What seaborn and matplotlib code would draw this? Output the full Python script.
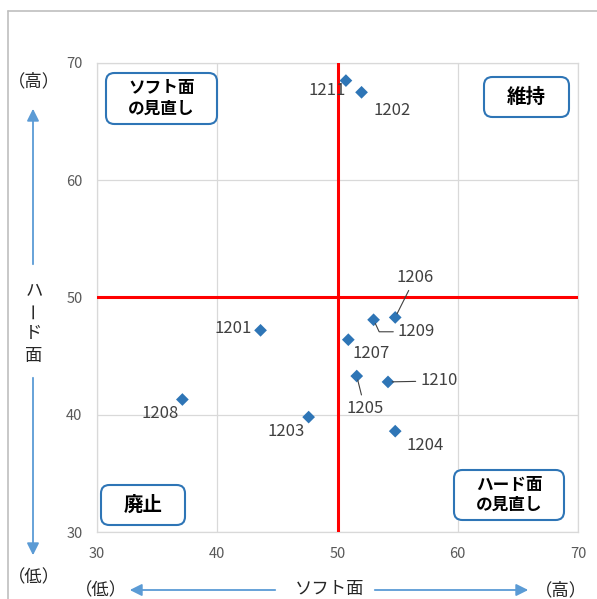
import matplotlib
matplotlib.use('Agg')
import matplotlib.pyplot as plt
import seaborn as sns
import pandas as pd
from matplotlib.patches import FancyBboxPatch
from matplotlib.lines import Line2D

# data
ids = ['1201', '1202', '1203', '1204', '1205', '1206', '1207', '1208', '1209', '1210', '1211']
soft = [43.6, 52.0, 47.6, 54.8, 51.6, 54.8, 50.9, 37.1, 53.0, 54.2, 50.7]
hard = [47.2, 67.5, 39.8, 38.6, 43.3, 48.3, 46.4, 41.3, 48.1, 42.8, 68.5]
ticks = [30, 40, 50, 60, 70]
quadrants = ['ソフト面\nの見直し', '維持', '廃止', 'ハード面\nの見直し']

sns.set_theme(style='white')
plt.rcParams['font.family'] = ['Noto Sans CJK JP', 'DejaVu Sans']

W, H = 597, 599
fig = plt.figure(figsize=(W / 100, H / 100), dpi=100)
ax = fig.add_axes([97 / W, 1 - 532 / H, (578 - 97) / W, (532 - 63) / H])

def fx(px):
    return px / W

def fy(py):
    return 1 - py / H

df = pd.DataFrame({'id': ids, 'soft': soft, 'hard': hard})
sns.scatterplot(data=df, x='soft', y='hard', marker='D', s=42, color='#2E75B6',
                edgecolor='none', ax=ax, zorder=5)

ax.set_xlim(30, 70)
ax.set_ylim(30, 70)
ax.set_xticks(ticks)
ax.set_yticks(ticks)
ax.grid(True, color='#D9D9D9', lw=0.9)
for s in ax.spines.values():
    s.set_color('#D9D9D9')
    s.set_linewidth(0.9)
ax.tick_params(length=0, labelsize=10.5, labelcolor='#595959', pad=10.5)
ax.set_xlabel('')
ax.set_ylabel('')

ax.axvline(50, color='#FF0000', lw=2.2, zorder=3)
ax.axhline(50, color='#FF0000', lw=2.2, zorder=3)

# label offsets in pixels (dx, dy), plus leader line style
offsets = {
    '1201': (-27, 2, None), '1202': (31, -18, None), '1203': (-23, -14, None),
    '1204': (30, -14, None), '1205': (8, -32, 'arc3'), '1206': (20, 40, 'arc3'),
    '1207': (23, -14, None), '1208': (-22, -14, None),
    '1209': (43, -12, 'angle,angleA=180,angleB=-65,rad=0'),
    '1210': (51, 1, 'arc3'), '1211': (-19, -10, None),
}
for i, x, y in zip(ids, soft, hard):
    dx, dy, conn = offsets[i]
    kw = {}
    if conn:
        kw['arrowprops'] = dict(arrowstyle='-', color='#404040', lw=0.8,
                                connectionstyle=conn, shrinkA=1, shrinkB=3)
    ax.annotate(i, (x, y), xytext=(dx * 0.72, dy * 0.72), textcoords='offset points',
                ha='center', va='center', fontsize=12, color='#404040', zorder=6, **kw)

# quadrant boxes (pixel extents)
boxes = [(106, 73, 217, 124, 12), (484, 77, 569, 117, 14),
         (101, 485, 185, 525, 14), (454, 470, 564, 520, 12)]
for label, (x0, y0, x1, y1, fs) in zip(quadrants, boxes):
    p = FancyBboxPatch((fx(x0), fy(y1)), fx(x1 - x0), (y1 - y0) / H,
                       boxstyle='round,pad=0,rounding_size=0.014',
                       transform=fig.transFigure, fc='white', ec='#2E75B6', lw=1.5, zorder=10)
    fig.add_artist(p)
    fig.text(fx((x0 + x1) / 2), fy((y0 + y1) / 2), label, ha='center', va='center',
             fontsize=fs, fontweight='bold', color='black', linespacing=1.15, zorder=11)

# outer chart border
fig.add_artist(Line2D([fx(8), fx(8)], [fy(11), 0], color='#BFBFBF', lw=1.2))
fig.add_artist(Line2D([fx(8), 1], [fy(11), fy(11)], color='#BFBFBF', lw=1.2))

arrow_col = '#5B9BD5'
def arrow(x0, y0, x1, y1):
    fig.add_artist(matplotlib.patches.FancyArrowPatch(
        (fx(x0), fy(y0)), (fx(x1), fy(y1)), transform=fig.transFigure,
        arrowstyle='-|>,head_length=0.6,head_width=0.3', mutation_scale=12,
        color=arrow_col, lw=1.3))

title_kw = dict(ha='center', va='center', fontsize=12.5, color='#262626')

# vertical axis title
fig.text(fx(34), fy(81), '（高）', **title_kw)
arrow(33, 267, 33, 106)
fig.text(fx(34), fy(290), 'ハ', **title_kw)
fig.text(fx(34), fy(310), 'ー', rotation=90, **title_kw)
fig.text(fx(34), fy(333), 'ド', **title_kw)
fig.text(fx(34), fy(356), '面', **title_kw)
arrow(33, 375, 33, 558)
fig.text(fx(34), fy(577), '（低）', **title_kw)

# horizontal axis title
fig.text(fx(101), fy(590), '（低）', **title_kw)
arrow(278, 590, 127, 590)
fig.text(fx(330), fy(589), 'ソフト面', **title_kw)
arrow(372, 590, 531, 590)
fig.text(fx(561), fy(590), '（高）', **title_kw)

fig.savefig('out.png', dpi=100)
